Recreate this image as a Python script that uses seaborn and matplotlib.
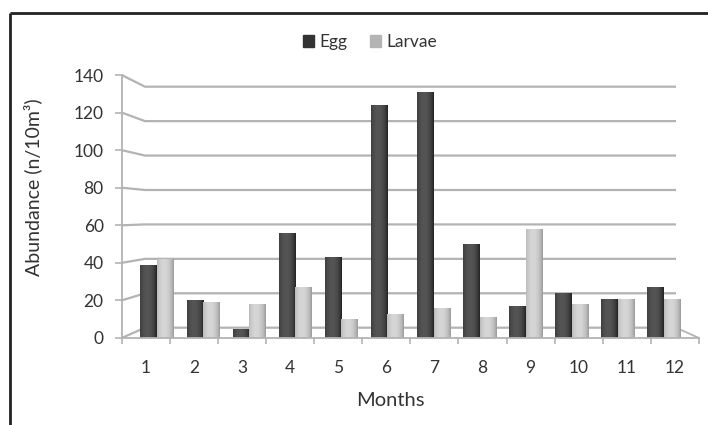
import numpy as np
import pandas as pd
import matplotlib
matplotlib.use("Agg")
import matplotlib.pyplot as plt
import seaborn as sns
from matplotlib.patches import Patch
from matplotlib.colors import to_rgb

# Monthly abundance of eggs and larvae (n/10m³)
months = [str(m) for m in range(1, 13)]
egg = [39, 20, 5, 56, 43, 124, 131, 50, 17, 24, 21, 27]
larvae = [42, 19, 18, 27, 10, 13, 16, 11, 58, 18, 21, 21]
series = ["Egg", "Larvae"]
yticks = list(range(0, 141, 20))

palette = {"Egg": "#333333", "Larvae": "#b4b4b4"}
# edge / highlight tones used for the cylinder shading
shade = {"Egg": ("#202020", "#555555"), "Larvae": ("#989898", "#d6d6d6")}

df = pd.DataFrame({
    "Month": months * 2,
    "Abundance": egg + larvae,
    "Stage": ["Egg"] * len(months) + ["Larvae"] * len(months),
})

sns.set_theme(style="white")
plt.rcParams["font.family"] = ["Lato", "DejaVu Sans"]

W, H = 708, 425
fig = plt.figure(figsize=(W / 100, H / 100), dpi=100)

# pseudo-3D frame geometry (pixels)
fx0, fx1 = 121.7, 699.0    # front floor edge
fy0, fy1 = 338.0, 75.0     # front axis: 0 and 140
bx0, bx1 = 145.0, 676.0    # back wall
by0, by1 = 327.7, 86.7
grid_c = "#b3b3b3"
text_c = "#333333"

bg = fig.add_axes([0, 0, 1, 1], zorder=0)
bg.set_xlim(0, W)
bg.set_ylim(H, 0)
bg.axis("off")
for v in yticks:
    yb = by0 + (by1 - by0) * v / 140
    yf = fy0 + (fy1 - fy0) * v / 140
    bg.plot([fx0, bx0, bx1], [yf, yb, yb], color=grid_c, lw=1.6,
            solid_capstyle="butt", solid_joinstyle="miter")
bg.plot([bx1, fx1], [by0, fy0], color=grid_c, lw=1.3)
# outer chart border
bg.plot([9.5, W], [12.5, 12.5], color="#222222", lw=2, solid_capstyle="butt")
bg.plot([9.5, 9.5], [12.5, H], color="#222222", lw=2, solid_capstyle="butt")

# bar axes shares the front axis scale
ax = fig.add_axes([fx0 / W, 1 - fy0 / H, (fx1 - fx0) / W, (fy0 - fy1) / H], zorder=2)
ax.patch.set_alpha(0)
sns.barplot(data=df, x="Month", y="Abundance", hue="Stage", hue_order=series,
            palette=palette, width=0.716, gap=0, saturation=1,
            edgecolor="none", legend=False, ax=ax)

# cylinder-like horizontal shading
t = np.linspace(0, 1, 64)
g = np.clip(1 - ((t - 0.42) / 0.58) ** 2, 0, 1) ** 0.8
bars = [p for p in ax.patches]
for i, p in enumerate(bars):
    stage = series[i // len(months)]
    lo, hi = np.array(to_rgb(shade[stage][0])), np.array(to_rgb(shade[stage][1]))
    img = lo[None, None, :] + (hi - lo)[None, None, :] * g[None, :, None]
    x0, w, h = p.get_x(), p.get_width(), p.get_height()
    im = ax.imshow(img, extent=[x0, x0 + w, 0, h], aspect="auto",
                   interpolation="bilinear", zorder=p.get_zorder() + 0.1)
    im.set_clip_path(p)

# back-row bar centres vs front category slots
s = (664 - 157) / 11
xl0 = -(157 - fx0) / s
xl1 = xl0 + (fx1 - fx0) / s
ax.set_xlim(xl0, xl1)
ax.set_ylim(0, 140)
slot = (fx1 - fx0) / 12
label_pos = [xl0 + slot * (i + 0.5) / s for i in range(12)]
bound_pos = [xl0 + slot * k / s for k in range(13)]
ax.set_xticks(label_pos, labels=months)
ax.set_xticks(bound_pos, minor=True)
ax.tick_params(axis="x", which="major", length=0, pad=16, labelsize=12.5, labelcolor=text_c)
ax.tick_params(axis="x", which="minor", length=4, width=1.2, color=grid_c, direction="out", bottom=True)
ax.set_yticks(yticks)
ax.tick_params(axis="y", length=5, width=1.2, color=grid_c, direction="out", left=True,
               pad=8, labelsize=12.5, labelcolor=text_c)
for side in ("top", "right"):
    ax.spines[side].set_visible(False)
for side in ("left", "bottom"):
    ax.spines[side].set_color(grid_c)
    ax.spines[side].set_linewidth(1.3)

ax.set_ylabel("Abundance (n/10m³)", fontsize=14, color=text_c)
ax.yaxis.set_label_coords((42 - fx0) / (fx1 - fx0), (fy0 - 187) / (fy0 - fy1))
ax.set_xlabel("Months", fontsize=14.5, color=text_c)
ax.xaxis.set_label_coords((390 - fx0) / (fx1 - fx0), (fy0 - 392) / (fy0 - fy1))

handles = [Patch(color=palette[sname]) for sname in series]
fig.legend(handles, series, loc="center", bbox_to_anchor=(370 / W, 1 - 42 / H),
           ncol=2, frameon=False, handlelength=0.65, handleheight=0.65,
           handletextpad=0.3, columnspacing=1.3, fontsize=12.5, labelcolor=text_c)

fig.savefig("out.png", dpi=100)
